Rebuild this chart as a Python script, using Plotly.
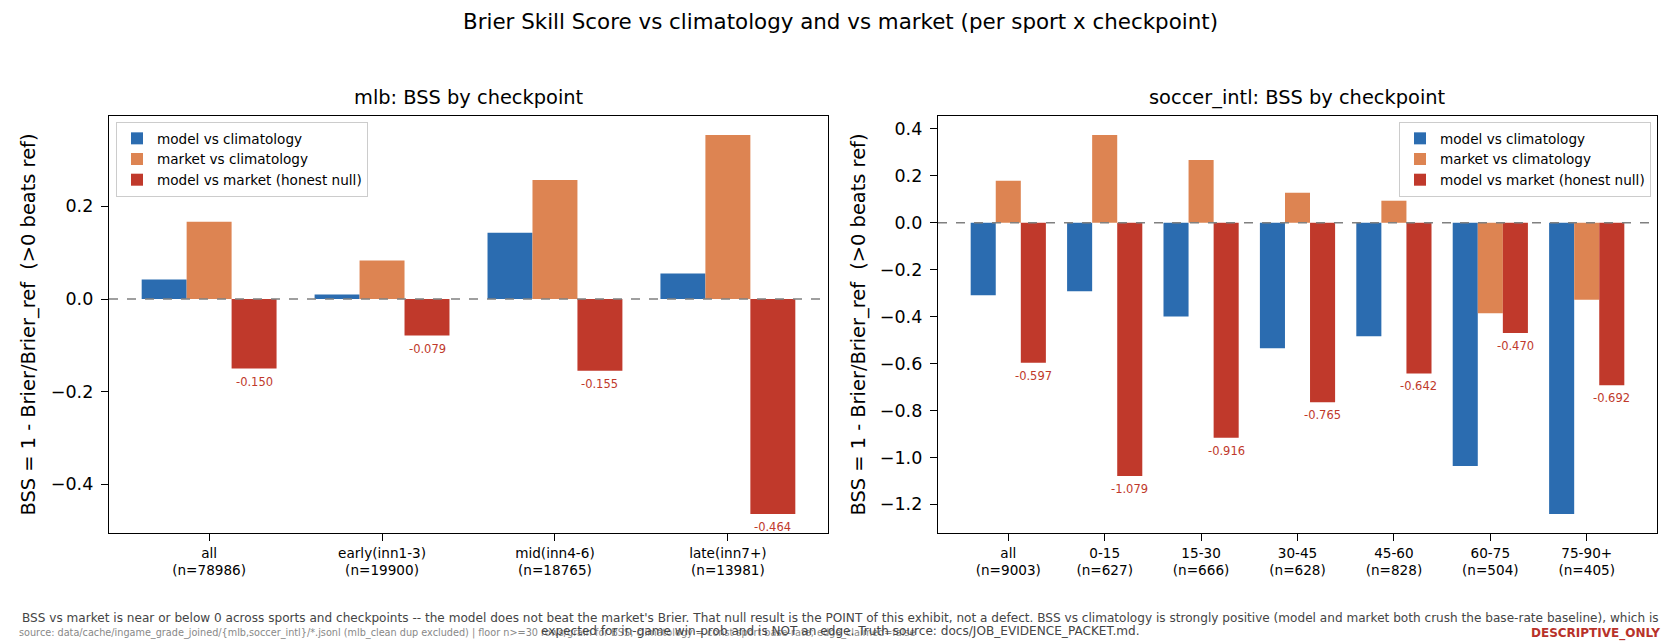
import plotly.graph_objects as go

# values
mlb_labels = ['all<br>(n=78986)', 'early(inn1-3)<br>(n=19900)', 'mid(inn4-6)<br>(n=18765)', 'late(inn7+)<br>(n=13981)']
mlb_model_clim = [0.042, 0.010, 0.143, 0.055]
mlb_market_clim = [0.167, 0.083, 0.257, 0.354]
mlb_model_market = [-0.150, -0.079, -0.155, -0.464]

soc_labels = ['all<br>(n=9003)', '0-15<br>(n=627)', '15-30<br>(n=666)', '30-45<br>(n=628)',
              '45-60<br>(n=828)', '60-75<br>(n=504)', '75-90+<br>(n=405)']
soc_model_clim = [-0.309, -0.292, -0.399, -0.535, -0.484, -1.037, -1.241]
soc_market_clim = [0.179, 0.374, 0.268, 0.128, 0.094, -0.386, -0.328]
soc_model_market = [-0.597, -1.079, -0.916, -0.765, -0.642, -0.470, -0.692]

series_names = ['model vs climatology', 'market vs climatology', 'model vs market (honest null)']
colors = ['#2b6cb0', '#dd8452', '#c0392b']

FONT = 'DejaVu Sans'
W, H = 1680, 644

fig = go.Figure()

panels = [
    ('x', 'y', 'legend', mlb_labels, [mlb_model_clim, mlb_market_clim, mlb_model_market]),
    ('x2', 'y2', 'legend2', soc_labels, [soc_model_clim, soc_market_clim, soc_model_market]),
]
for xa, ya, leg, labels, series in panels:
    xs = list(range(len(labels)))
    for name, vals, col in zip(series_names, series, colors):
        fig.add_trace(go.Bar(x=xs, y=vals, name=name, marker=dict(color=col, line=dict(width=0)),
                             xaxis=xa, yaxis=ya, legend=leg, offsetgroup=name + xa))
    # labels under the model-vs-market bars
    for i, v in enumerate(series[2]):
        fig.add_annotation(x=i + 0.26, y=v, xref=xa, yref=ya, text='%.3f' % v, showarrow=False,
                           xanchor='center', yanchor='middle', yshift=-13,
                           font=dict(family=FONT, size=11.5, color='#c0392b'))
    # zero reference line
    fig.add_shape(type='line', xref=xa + ' domain', yref=ya, x0=0, x1=1, y0=0, y1=0,
                  line=dict(color='gray', width=1.3, dash='dash'))

ydom = [1 - 533 / H, 1 - 116 / H]
x1dom = [109 / W, 828 / W]
x2dom = [938 / W, 1657 / W]

axis_common = dict(showline=True, linecolor='black', linewidth=1.4, mirror=True, ticks='outside',
                   ticklen=7, tickwidth=1.4, tickcolor='black', showgrid=False, zeroline=False,
                   automargin=False)

fig.update_layout(
    width=W, height=H,
    margin=dict(l=0, r=0, t=0, b=0),
    paper_bgcolor='white', plot_bgcolor='white',
    font=dict(family=FONT, color='black'),
    barmode='group', bargap=0.22, bargroupgap=0,
    xaxis=dict(domain=x1dom, anchor='y', range=[-0.579, 3.579], tickvals=list(range(4)),
               ticktext=mlb_labels, tickfont=dict(size=13.6), **axis_common),
    yaxis=dict(domain=ydom, anchor='x', range=[-0.505, 0.395], tickvals=[-0.4, -0.2, 0.0, 0.2],
               tickformat='.1f', tickfont=dict(size=17.5), ticklabelstandoff=4, **axis_common),
    xaxis2=dict(domain=x2dom, anchor='y2', range=[-0.729, 6.729], tickvals=list(range(7)),
                ticktext=soc_labels, tickfont=dict(size=13.6), **axis_common),
    yaxis2=dict(domain=ydom, anchor='x2', range=[-1.322, 0.455], dtick=0.2, tick0=0,
                tickformat='.1f', tickfont=dict(size=17.5), ticklabelstandoff=4, **axis_common),
    legend=dict(x=116 / W, y=1 - 122 / H, xanchor='left', yanchor='top', bgcolor='rgba(255,255,255,0.8)',
                bordercolor='#cccccc', borderwidth=1, font=dict(size=13.6), tracegroupgap=0),
    legend2=dict(x=1651 / W, y=1 - 122 / H, xanchor='right', yanchor='top', bgcolor='rgba(255,255,255,0.8)',
                 bordercolor='#cccccc', borderwidth=1, font=dict(size=13.6), tracegroupgap=0),
)

# titles
fig.add_annotation(x=0.5, y=1 - 21 / H, xref='paper', yref='paper', showarrow=False,
                   text='Brier Skill Score vs climatology and vs market (per sport x checkpoint)',
                   font=dict(size=21.4), xanchor='center', yanchor='middle')
fig.add_annotation(x=sum(x1dom) / 2, y=1 - 97 / H, xref='paper', yref='paper', showarrow=False,
                   text='mlb: BSS by checkpoint', font=dict(size=19.4), xanchor='center', yanchor='middle')
fig.add_annotation(x=sum(x2dom) / 2, y=1 - 97 / H, xref='paper', yref='paper', showarrow=False,
                   text='soccer_intl: BSS by checkpoint', font=dict(size=19.4), xanchor='center', yanchor='middle')

# y axis titles
ylab = 'BSS = 1 - Brier/Brier_ref  (&gt;0 beats ref)'
for xpix in (28, 858):
    fig.add_annotation(x=xpix / W, y=sum(ydom) / 2, xref='paper', yref='paper', showarrow=False,
                       text=ylab, textangle=-90, xanchor='center', yanchor='middle', font=dict(size=19.4))

# footer
note1 = ("BSS vs market is near or below 0 across sports and checkpoints -- the model does not beat the market's Brier. "
         "That null result is the POINT of this exhibit, not a defect. BSS vs climatology is strongly positive "
         "(model and market both crush the base-rate baseline), which is")
note2 = "expected for in-game win-prob and is NOT an edge. Truth source: docs/JOB_EVIDENCE_PACKET.md."
source = ("source: data/cache/ingame_grade_joined/{mlb,soccer_intl}/*.jsonl (mlb_clean dup excluded) | "
          "floor n&gt;=30 rows/grain for BSS; climatology = const sport base-rate; edge_claimed=false")
fig.add_annotation(x=17 / W, y=1 - 633 / H, xref='paper', yref='paper', showarrow=False, text=source,
                   font=dict(size=9.7, color='#888888'), xanchor='left', yanchor='middle')
fig.add_annotation(x=0.5, y=1 - 618 / H, xref='paper', yref='paper', showarrow=False, text=note1,
                   font=dict(size=12.1, color='#444444'), xanchor='center', yanchor='middle')
fig.add_annotation(x=0.5, y=1 - 631 / H, xref='paper', yref='paper', showarrow=False, text=note2,
                   font=dict(size=12.1, color='#444444'), xanchor='center', yanchor='middle')
fig.add_annotation(x=1662 / W, y=1 - 633 / H, xref='paper', yref='paper', showarrow=False,
                   text='<b>DESCRIPTIVE_ONLY</b>', xanchor='right', yanchor='middle',
                   font=dict(size=12, color='#b8322a'))

# page body has a default 8px margin; drop it so the figure sits at the window origin
fig.write_html("out.html", config={'displayModeBar': False},
               post_script="document.body.style.margin='0px';")
